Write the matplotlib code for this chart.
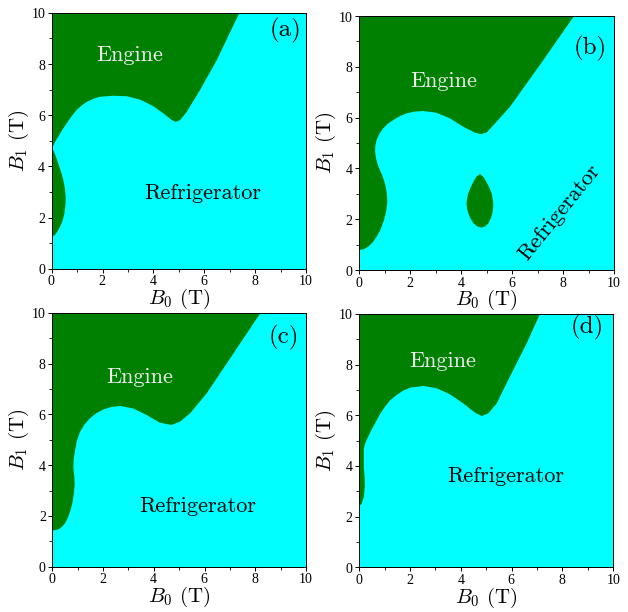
import numpy as np
import matplotlib
matplotlib.use("Agg")
import matplotlib.pyplot as plt
from matplotlib.ticker import MultipleLocator

plt.rcParams['mathtext.fontset'] = 'cm'
plt.rcParams['font.family'] = ['serif']
plt.rcParams['font.serif'] = ['cmr10', 'DejaVu Serif']
plt.rcParams['axes.formatter.use_mathtext'] = True

# boundary of the engine region (B0, B1) in tesla
a_top_b0 = [0.0, 0.04, 0.14, 0.26, 0.42, 0.59, 0.78, 0.98, 1.18, 1.38, 1.64, 1.9, 2.42, 2.95,
            3.47, 4.0, 4.39, 4.72, 4.88, 5.05, 5.31, 5.83, 6.49, 7.38]
a_top_b1 = [4.77, 4.77, 4.97, 5.16, 5.43, 5.68, 5.96, 6.2, 6.38, 6.52, 6.64, 6.72, 6.76, 6.74,
            6.61, 6.35, 6.07, 5.81, 5.74, 5.81, 6.13, 6.98, 8.15, 10.0]
a_lobe_b0 = [0.0, 0.14, 0.26, 0.37, 0.46, 0.52, 0.55, 0.54, 0.5, 0.43, 0.33, 0.23, 0.13, 0.0]
a_lobe_b1 = [4.77, 4.45, 4.11, 3.78, 3.46, 3.13, 2.81, 2.48, 2.16, 1.88, 1.64, 1.46, 1.32, 1.25]

b_top_b0 = [0.0, 0.18, 0.35, 0.52, 0.68, 0.84, 0.97, 1.06, 1.1, 1.08, 1.01, 0.89, 0.75, 0.66,
            0.62, 0.63, 0.68, 0.79, 0.94, 1.12, 1.34, 1.58, 1.86, 2.18, 2.51, 3.04, 3.56,
            4.08, 4.54, 4.76, 5.0, 5.39, 5.92, 7.23, 8.43]
b_top_b1 = [0.79, 0.82, 0.92, 1.08, 1.31, 1.6, 1.97, 2.32, 2.69, 3.05, 3.41, 3.75, 4.07, 4.37,
            4.66, 4.9, 5.12, 5.36, 5.58, 5.76, 5.91, 6.05, 6.17, 6.24, 6.26, 6.19, 5.97,
            5.64, 5.41, 5.35, 5.41, 5.84, 6.43, 8.27, 10.0]
b_isl_b0 = [4.74, 4.6, 4.48, 4.37, 4.28, 4.23, 4.21, 4.23, 4.28, 4.37, 4.48, 4.63, 4.8, 4.95,
            5.07, 5.17, 5.24, 5.26, 5.25, 5.2, 5.12, 5.0, 4.88]
b_isl_b1 = [3.78, 3.68, 3.48, 3.25, 3.02, 2.82, 2.62, 2.42, 2.23, 2.02, 1.84, 1.72, 1.67, 1.72,
            1.84, 2.05, 2.3, 2.53, 2.76, 3.0, 3.22, 3.45, 3.66]

c_top_b0 = [0.0, 0.24, 0.38, 0.5, 0.62, 0.72, 0.8, 0.85, 0.88, 0.87, 0.83, 0.84, 0.89, 0.97,
            1.09, 1.27, 1.48, 1.73, 2.01, 2.33, 2.67, 3.19, 3.72, 4.24, 4.7, 5.03, 5.43,
            6.08, 7.14, 8.21]
c_top_b1 = [1.42, 1.47, 1.57, 1.71, 1.94, 2.23, 2.55, 2.89, 3.22, 3.54, 3.87, 4.2, 4.55, 4.95,
            5.31, 5.6, 5.84, 6.04, 6.19, 6.29, 6.33, 6.23, 5.97, 5.67, 5.58, 5.71, 6.04,
            6.82, 8.4, 10.0]

d_top_b0 = [0.0, 0.09, 0.18, 0.22, 0.21, 0.18, 0.18, 0.25, 0.35, 0.48, 0.62, 0.8, 1.01, 1.22,
            1.47, 1.72, 2.0, 2.52, 3.04, 3.57, 4.09, 4.55, 4.82, 5.08, 5.41, 5.93, 6.59, 7.11]
d_top_b1 = [2.42, 2.5, 2.79, 3.18, 3.58, 3.97, 4.7, 4.94, 5.16, 5.42, 5.68, 6.02, 6.34, 6.6,
            6.8, 6.97, 7.09, 7.16, 7.07, 6.83, 6.47, 6.11, 5.97, 6.08, 6.47, 7.53, 8.84, 10.0]

panel_tags = ['(a)', '(b)', '(c)', '(d)']

fig = plt.figure(figsize=(6.28, 6.12), dpi=100)
boxes = [[0.0823, 0.561, 0.405, 0.418],
         [0.5721, 0.5588, 0.4056, 0.415],
         [0.0833, 0.074, 0.404, 0.415],
         [0.5721, 0.073, 0.4045, 0.414]]
axs = [fig.add_axes(b) for b in boxes]

GREEN = '#008000'
CYAN = '#00ffff'


def upper(ax, xs, ys):
    px = list(xs) + [0.0]
    py = list(ys) + [10.0]
    ax.fill(px, py, color=GREEN, lw=0)


def setup(ax, tag, tpos):
    ax.set_facecolor(CYAN)
    ax.set_xlim(0, 10)
    ax.set_ylim(0, 10)
    ax.xaxis.set_major_locator(MultipleLocator(2))
    ax.yaxis.set_major_locator(MultipleLocator(2))
    ax.xaxis.set_minor_locator(MultipleLocator(1))
    ax.yaxis.set_minor_locator(MultipleLocator(1))
    ax.tick_params(which='major', length=3, width=0.7, labelsize=10, pad=1)
    ax.tick_params(which='minor', length=2, width=0.6)
    for lab in ax.get_xticklabels() + ax.get_yticklabels():
        lab.set_fontfamily('Liberation Serif')
    for s in ax.spines.values():
        s.set_linewidth(0.7)
    ax.set_xlabel(r'$B_0$ (T)', fontsize=15, labelpad=-1)
    ax.set_ylabel(r'$B_1$ (T)', fontsize=15, labelpad=0)
    ax.text(tpos[0], tpos[1], tag, fontsize=18, ha='center', va='center')


ax = axs[0]
upper(ax, a_top_b0, a_top_b1)
ax.fill(a_lobe_b0, a_lobe_b1, color=GREEN, lw=0)
setup(ax, panel_tags[0], (9.19, 9.32))
ax.text(3.08, 8.35, 'Engine', color='#eeeeee', fontsize=16, ha='center', va='center')
ax.text(5.93, 2.95, 'Refrigerator', color='black', fontsize=16, ha='center', va='center')

ax = axs[1]
upper(ax, b_top_b0, b_top_b1)
ax.fill(b_isl_b0, b_isl_b1, color=GREEN, lw=0)
setup(ax, panel_tags[1], (9.06, 8.74))
ax.text(3.33, 7.44, 'Engine', color='#eeeeee', fontsize=16, ha='center', va='center')
ax.text(7.88, 2.28, 'Refrigerator', color='black', fontsize=16, ha='center', va='center',
        rotation=51, rotation_mode='anchor')

ax = axs[2]
upper(ax, c_top_b0, c_top_b1)
setup(ax, panel_tags[2], (9.13, 9.04))
ax.text(3.46, 7.47, 'Engine', color='#eeeeee', fontsize=16, ha='center', va='center')
ax.text(5.74, 2.39, 'Refrigerator', color='black', fontsize=16, ha='center', va='center')

ax = axs[3]
upper(ax, d_top_b0, d_top_b1)
setup(ax, panel_tags[3], (8.97, 9.45))
ax.text(3.3, 8.14, 'Engine', color='#eeeeee', fontsize=16, ha='center', va='center')
ax.text(5.78, 3.6, 'Refrigerator', color='black', fontsize=16, ha='center', va='center')

fig.savefig('out.png', dpi=100)
